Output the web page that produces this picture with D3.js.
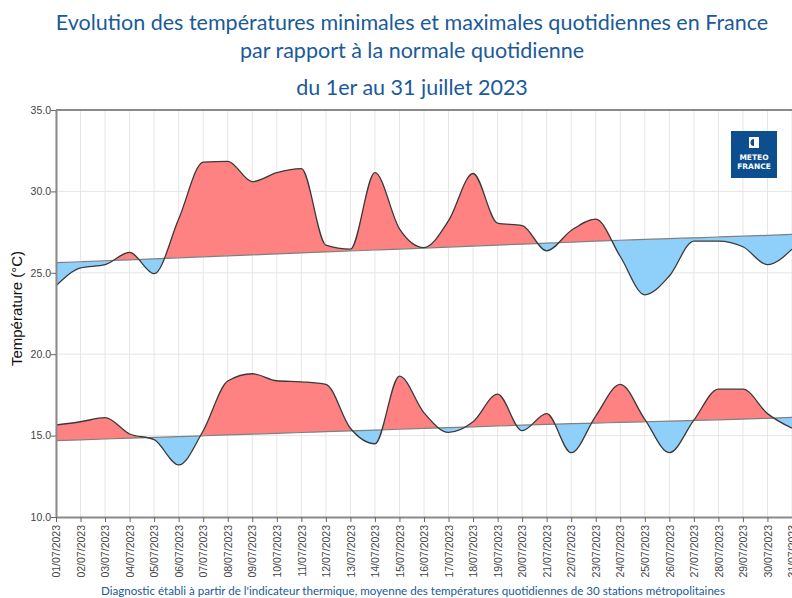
<!DOCTYPE html>
<html>
<head>
<meta charset="utf-8">
<script src="https://cdn.jsdelivr.net/npm/d3@7"></script>
<style>
  body { margin: 0; background: #fff; }
  svg { display: block; }
</style>
</head>
<body>
<div id="chart"></div>
<script>
// Data
const days = ["01/07/2023","02/07/2023","03/07/2023","04/07/2023","05/07/2023","06/07/2023","07/07/2023","08/07/2023","09/07/2023","10/07/2023","11/07/2023","12/07/2023","13/07/2023","14/07/2023","15/07/2023","16/07/2023","17/07/2023","18/07/2023","19/07/2023","20/07/2023","21/07/2023","22/07/2023","23/07/2023","24/07/2023","25/07/2023","26/07/2023","27/07/2023","28/07/2023","29/07/2023","30/07/2023","31/07/2023"];

const tMax = [24.2, 25.3, 25.5, 26.25, 24.95, 28.3, 31.8, 31.85, 30.6, 31.15, 31.4, 26.7, 26.45, 31.15, 27.7, 26.55, 28.2, 31.1, 28.05, 27.9, 26.35, 27.6, 28.3, 26.0, 23.65, 24.8, 26.95, 26.95, 26.6, 25.5, 26.45];
const tMaxNormal = [25.62, 25.68, 25.74, 25.80, 25.86, 25.92, 25.98, 26.04, 26.10, 26.16, 26.22, 26.28, 26.34, 26.40, 26.46, 26.52, 26.58, 26.64, 26.70, 26.76, 26.82, 26.88, 26.94, 27.00, 27.05, 27.10, 27.15, 27.20, 27.25, 27.30, 27.36];

const tMin = [15.65, 15.85, 16.1, 15.1, 14.75, 13.2, 15.3, 18.35, 18.8, 18.37, 18.3, 18.15, 15.45, 14.5, 18.65, 16.4, 15.2, 15.85, 17.55, 15.3, 16.35, 13.95, 16.2, 18.15, 16.0, 13.95, 15.95, 17.85, 17.85, 16.35, 15.45];
const tMinNormal = [14.69, 14.74, 14.79, 14.84, 14.89, 14.94, 14.99, 15.04, 15.09, 15.14, 15.19, 15.24, 15.29, 15.34, 15.39, 15.44, 15.49, 15.54, 15.59, 15.64, 15.69, 15.73, 15.77, 15.81, 15.85, 15.89, 15.93, 15.97, 16.01, 16.06, 16.12];

const yTicks = [10, 15, 20, 25, 30, 35];

const titleLines = [
  "Evolution des températures minimales et maximales quotidiennes en France",
  "par rapport à la normale quotidienne",
  "du 1er au 31 juillet 2023"
];
const footer = "Diagnostic établi à partir de l'indicateur thermique, moyenne des températures quotidiennes de 30 stations métropolitaines";

// Dimensions
const width = 792, height = 598;
const margin = { top: 110, left: 56, bottom: 81 };
const plotW = 736; // 31st day sits right on the page edge
const plotH = height - margin.top - margin.bottom;

const svg = d3.select("#chart").append("svg")
  .attr("width", width)
  .attr("height", height);

const blue = "#1a5a9a";

// Title
svg.append("g").selectAll("text")
  .data(titleLines)
  .join("text")
  .attr("x", 412)
  .attr("y", (d, i) => [30, 58, 95][i])
  .attr("text-anchor", "middle")
  .attr("font-family", "Lato, 'Open Sans', sans-serif")
  .attr("font-size", 21.5)
  .attr("fill", blue)
  .text(d => d);

const ctr = svg.append("g")
  .attr("transform", `translate(${margin.left}, ${margin.top})`);

// Scales
const xScale = d3.scalePoint().domain(days).range([0, plotW]);
const yScale = d3.scaleLinear().domain([10, 35]).range([plotH, 0]);

// Grid
ctr.append("g").selectAll("line")
  .data(days)
  .join("line")
  .attr("x1", d => xScale(d)).attr("x2", d => xScale(d))
  .attr("y1", 0).attr("y2", plotH)
  .attr("stroke", "#e6e6e6").attr("stroke-width", 1);

ctr.append("g").selectAll("line")
  .data(yTicks.filter(d => d > 10 && d < 35))
  .join("line")
  .attr("x1", 0).attr("x2", plotW)
  .attr("y1", d => yScale(d)).attr("y2", d => yScale(d))
  .attr("stroke", "#e6e6e6").attr("stroke-width", 1);

// Curves
const curve = d3.curveMonotoneX;
const defs = svg.append("defs");

function drawBand(values, normals, id) {
  const rows = days.map((d, i) => ({ day: d, v: values[i], n: normals[i] }));

  defs.append("clipPath").attr("id", id + "-above")
    .append("path")
    .attr("d", d3.area().curve(curve)
      .x(d => xScale(d.day)).y0(d => yScale(d.n)).y1(-5)(rows));
  defs.append("clipPath").attr("id", id + "-below")
    .append("path")
    .attr("d", d3.area().curve(curve)
      .x(d => xScale(d.day)).y0(d => yScale(d.n)).y1(plotH + 5)(rows));

  const band = d3.area().curve(curve)
    .x(d => xScale(d.day))
    .y0(d => yScale(d.n))
    .y1(d => yScale(d.v));

  ctr.append("path").datum(rows)
    .attr("d", band)
    .attr("fill", "#ff8282")
    .attr("clip-path", `url(#${id}-above)`);
  ctr.append("path").datum(rows)
    .attr("d", band)
    .attr("fill", "#8fd0fa")
    .attr("clip-path", `url(#${id}-below)`);

  ctr.append("path").datum(rows)
    .attr("d", d3.line().curve(curve).x(d => xScale(d.day)).y(d => yScale(d.n)))
    .attr("fill", "none")
    .attr("stroke", "#808080")
    .attr("stroke-width", 1.2);

  ctr.append("path").datum(rows)
    .attr("d", d3.line().curve(curve).x(d => xScale(d.day)).y(d => yScale(d.v)))
    .attr("fill", "none")
    .attr("stroke", "#3a3a3a")
    .attr("stroke-width", 1.3);
}

drawBand(tMax, tMaxNormal, "tmax");
drawBand(tMin, tMinNormal, "tmin");

// Axes
const yAxis = d3.axisLeft(yScale)
  .tickValues(yTicks)
  .tickFormat(d3.format(".1f"))
  .tickSize(5)
  .tickSizeOuter(0);
const yAxisG = ctr.append("g").call(yAxis);
yAxisG.select(".domain").attr("stroke", "#8a8a8a").attr("stroke-width", 2);
yAxisG.selectAll(".tick line").attr("stroke", "#666");
yAxisG.selectAll(".tick text")
  .attr("font-family", "'Liberation Sans', Arial, sans-serif")
  .attr("font-size", 10.5)
  .attr("fill", "#444")
  .attr("x", -5);

const xAxis = d3.axisBottom(xScale).tickSize(5).tickSizeOuter(0);
const xAxisG = ctr.append("g")
  .attr("transform", `translate(0, ${plotH})`)
  .call(xAxis);
xAxisG.select(".domain").attr("stroke", "#8a8a8a").attr("stroke-width", 2);
xAxisG.selectAll(".tick line").attr("stroke", "#666");
xAxisG.selectAll(".tick text")
  .attr("font-family", "'Liberation Sans', Arial, sans-serif")
  .attr("font-size", 10.5)
  .attr("fill", "#444")
  .attr("text-anchor", "end")
  .attr("transform", "rotate(-90)")
  .attr("x", -8)
  .attr("y", 0)
  .attr("dy", "0.35em");

// top border
ctr.append("line")
  .attr("x1", 0).attr("x2", plotW)
  .attr("y1", 0).attr("y2", 0)
  .attr("stroke", "#8a8a8a").attr("stroke-width", 2);

// Y title
svg.append("text")
  .attr("transform", `translate(22, ${margin.top + plotH / 2 - 5}) rotate(-90)`)
  .attr("text-anchor", "middle")
  .attr("font-family", "'Liberation Sans', Arial, sans-serif")
  .attr("font-size", 15)
  .attr("fill", "#111")
  .text("Température (°C)");

// Footer
svg.append("text")
  .attr("x", 413)
  .attr("y", 595)
  .attr("text-anchor", "middle")
  .attr("font-family", "Lato, 'Open Sans', sans-serif")
  .attr("font-size", 11.6)
  .attr("fill", blue)
  .text(footer);

// Logo
const logo = svg.append("g").attr("transform", "translate(731, 131)");
logo.append("rect").attr("width", 46).attr("height", 47).attr("fill", "#0d4f8e");
logo.append("rect").attr("x", 18).attr("y", 6).attr("width", 10).attr("height", 11).attr("fill", "#fff");
logo.append("path")
  .attr("d", "M23,8 A3.5,3.5 0 0 0 23,15 Z")
  .attr("fill", "#0d4f8e");
logo.append("text").attr("x", 23).attr("y", 29)
  .attr("text-anchor", "middle")
  .attr("font-family", "'DejaVu Sans', sans-serif")
  .attr("font-weight", "bold")
  .attr("font-size", 7.5)
  .attr("fill", "#fff")
  .text("METEO");
logo.append("text").attr("x", 23).attr("y", 38)
  .attr("text-anchor", "middle")
  .attr("font-family", "'DejaVu Sans', sans-serif")
  .attr("font-weight", "bold")
  .attr("font-size", 7.5)
  .attr("fill", "#fff")
  .text("FRANCE");
</script>
</body>
</html>
